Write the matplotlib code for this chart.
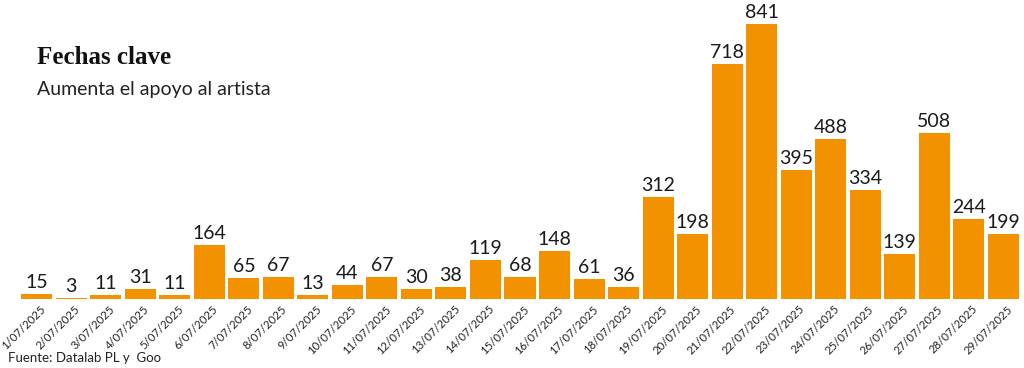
import matplotlib.pyplot as plt
from matplotlib.transforms import ScaledTranslation

fechas = ['%d/07/2025' % d for d in range(1, 30)]
apoyo = [15, 3, 11, 31, 11, 164, 65, 67, 13, 44, 67, 30, 38, 119, 68,
         148, 61, 36, 312, 198, 718, 841, 395, 488, 334, 139, 508, 244, 199]

naranja = '#f39200'

fig = plt.figure(figsize=(10.24, 3.68), dpi=100)
ax = fig.add_axes([19.5 / 1024, 69 / 368, 1001 / 1024, 294 / 368])

x = range(len(apoyo))
ax.bar(x, apoyo, width=0.9, color=naranja)
for i, v in zip(x, apoyo):
    ax.text(i, v + 9, str(v), ha='center', va='bottom', fontsize=14,
            family='Lato', color='#1a1a1a')

ax.set_xlim(-0.5, len(apoyo) - 0.5)
ax.set_ylim(0, 899)
ax.set_xticks(list(x))
ax.set_xticklabels(fechas, rotation=45, ha='right', va='center',
                   rotation_mode='anchor', fontsize=8.2, family='Lato',
                   color='#222222')
ax.tick_params(axis='x', length=0, pad=6)
# shift the labels so they end just right of the bar centre
desplaza = ScaledTranslation(7 / 100, 0, fig.dpi_scale_trans)
for lab in ax.get_xticklabels():
    lab.set_transform(lab.get_transform() + desplaza)
ax.set_yticks([])
for s in ax.spines.values():
    s.set_visible(False)

fig.text(37 / 1024, 1 - 58 / 368, 'Fechas clave', fontsize=18, fontweight='bold',
         family='Liberation Serif', va='center', ha='left', color='#111111')
fig.text(37 / 1024, 1 - 89 / 368, 'Aumenta el apoyo al artista', fontsize=14,
         family='Lato', va='center', ha='left', color='#222222')
fig.text(8 / 1024, 1 - 358 / 368, 'Fuente: Datalab PL y  Goo', fontsize=9.5,
         family='Lato', va='center', ha='left', color='#222222')

fig.savefig('out.png', dpi=100)
